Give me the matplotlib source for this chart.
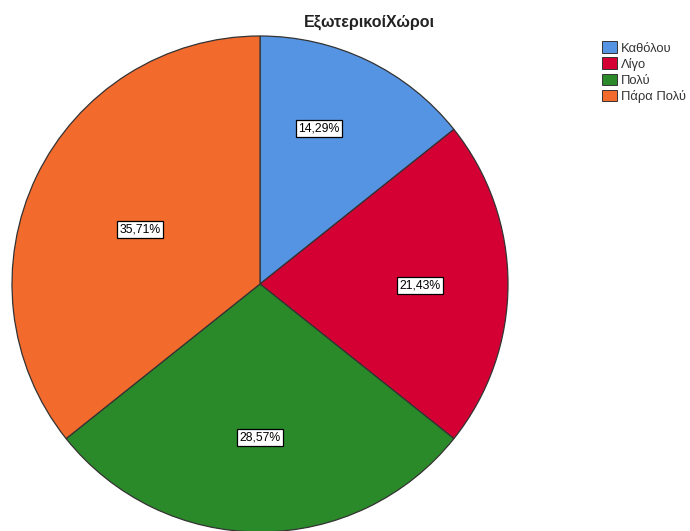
import matplotlib
matplotlib.use("Agg")
import numpy as np
import matplotlib.pyplot as plt
from matplotlib.patches import Patch

categories = ["Καθόλου", "Λίγο", "Πολύ", "Πάρα Πολύ"]
counts = [2, 3, 4, 5]
colors = ["#5593E3", "#D40033", "#2A8A2A", "#F26A2C"]
title = "ΕξωτερικοίΧώροι"

plt.rcParams["font.family"] = ["Liberation Sans", "DejaVu Sans"]

fig = plt.figure(figsize=(6.9, 5.31), dpi=100)
fig.patch.set_facecolor("white")
ax = fig.add_axes([12 / 690, -1 / 531, 496 / 690, 496 / 531])

wedges, texts, autotexts = ax.pie(
    counts, colors=colors, startangle=90, counterclock=False,
    autopct=lambda p: f"{p:.2f}%".replace(".", ","),
    wedgeprops=dict(edgecolor="#333333", linewidth=0.9),
    textprops=dict(fontsize=8.8, color="black"),
)

# label distances from centre, roughly where the centroid-style placement puts them
label_dist = [0.67, 0.645, 0.62, 0.53]
label_shift = [5, -0.5, 0, 1.2]
for w, t, d, s in zip(wedges, autotexts, label_dist, label_shift):
    ang = np.deg2rad((w.theta1 + w.theta2) / 2 + s)
    t.set_position((d * np.cos(ang), d * np.sin(ang)))
    t.set_ha("center")
    t.set_va("center")
    t.set_bbox(dict(boxstyle="square,pad=0.2", facecolor="white",
                    edgecolor="black", linewidth=0.9))

ax.set_xlim(-1, 1)
ax.set_ylim(-1, 1)
ax.set_aspect("equal")

fig.text(369 / 690, 1 - 22 / 531, title, ha="center", va="center",
         fontsize=11.5, fontweight="bold", color="#222222")

handles = [Patch(facecolor=c, edgecolor="#333333", linewidth=0.7) for c in colors]
fig.legend(handles, categories, loc="upper left",
           bbox_to_anchor=(597 / 690, 1 - 36 / 531), frameon=False,
           fontsize=9.4, handlelength=1.15, handleheight=1.0,
           handletextpad=0.3, labelspacing=0.22, borderaxespad=0,
           labelcolor="#333333")

fig.savefig("out.png", dpi=100, facecolor="white")
